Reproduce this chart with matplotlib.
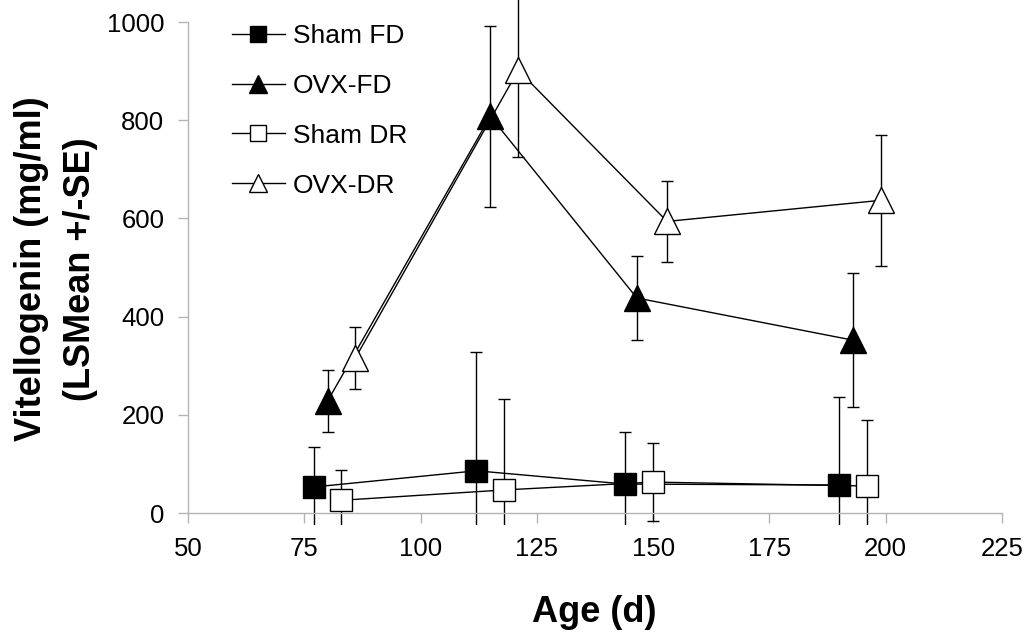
import matplotlib
matplotlib.use("Agg")
import matplotlib.pyplot as plt
from matplotlib.lines import Line2D

plt.rcParams['font.family'] = ['Liberation Sans', 'DejaVu Sans']

# Dane (wiek w dniach, średnia, SE)
sham_fd_age = [77, 112, 144, 190]
sham_fd = [53, 86, 59, 57]
sham_fd_se = [81, 243, 106, 179]

ovx_fd_age = [80, 115, 146.5, 193]
ovx_fd = [228, 808, 438, 352]
ovx_fd_se = [63, 185, 86, 136]

sham_dr_age = [83, 118, 150, 196]
sham_dr = [26, 47, 63, 55]
sham_dr_se = [62, 185, 80, 135]

ovx_dr_age = [86, 121, 153, 199]
ovx_dr = [316, 902, 594, 637]
ovx_dr_se = [63, 176, 82, 134]

x_ticks = [50, 75, 100, 125, 150, 175, 200, 225]
y_ticks = [0, 200, 400, 600, 800, 1000]

fig = plt.figure(figsize=(10.34, 6.33), dpi=100)
ax = fig.add_axes([188 / 1034, 1 - 525 / 633, 814 / 1034, 525 / 633])

series = [
    ("Sham FD", sham_fd_age, sham_fd, sham_fd_se, "s", "black", 16.5),
    ("OVX-FD", ovx_fd_age, ovx_fd, ovx_fd_se, "^", "black", 18.5),
    ("Sham DR", sham_dr_age, sham_dr, sham_dr_se, "s", "white", 16.5),
    ("OVX-DR", ovx_dr_age, ovx_dr, ovx_dr_se, "^", "white", 18.5),
]
handles = []
for label, xs, ys, se, m, fc, ms in series:
    ax.errorbar(xs, ys, yerr=se, fmt="-", marker=m, color="black",
                mfc=fc, mec="black", mew=1.0, ms=ms, lw=1.0,
                elinewidth=1.0, capsize=4.3, capthick=1.0)
    handles.append(Line2D([], [], color="black", lw=1.0, marker=m,
                          mfc=fc, mec="black", mew=1.0, ms=ms * 0.72,
                          label=label))

ax.set_xlim(50, 225)
ax.set_ylim(-24.4, 1045)
ax.set_xticks(x_ticks)
ax.set_yticks(y_ticks)

for s in ["top", "right"]:
    ax.spines[s].set_visible(False)
ax.spines["bottom"].set_position(("data", 0))
ax.spines["left"].set_bounds(0, 1000)
for s in ["bottom", "left"]:
    ax.spines[s].set_color("#b4b4b4")
    ax.spines[s].set_linewidth(1.0)
ax.tick_params(axis="both", colors="#b4b4b4", labelcolor="black",
               labelsize=18.5, length=7, width=1.0, direction="out", pad=10)

fig.text(56 / 1034, 1 - 269 / 633, "Vitellogenin (mg/ml)\n(LSMean +/-SE)",
         rotation=90, ha="center", va="center", fontsize=26,
         fontweight="bold", linespacing=1.5)
fig.text(594 / 1034, 1 - 613 / 633, "Age (d)", ha="center", va="center",
         fontsize=26, fontweight="bold")

ax.legend(handles=handles, loc="upper left",
          bbox_to_anchor=(232 / 1034, 1 - 24 / 633),
          bbox_transform=fig.transFigure, frameon=False, fontsize=19,
          handlelength=2.0, handletextpad=0.3, labelspacing=0.98,
          borderpad=0, borderaxespad=0)

fig.savefig("out.png", dpi=100)
